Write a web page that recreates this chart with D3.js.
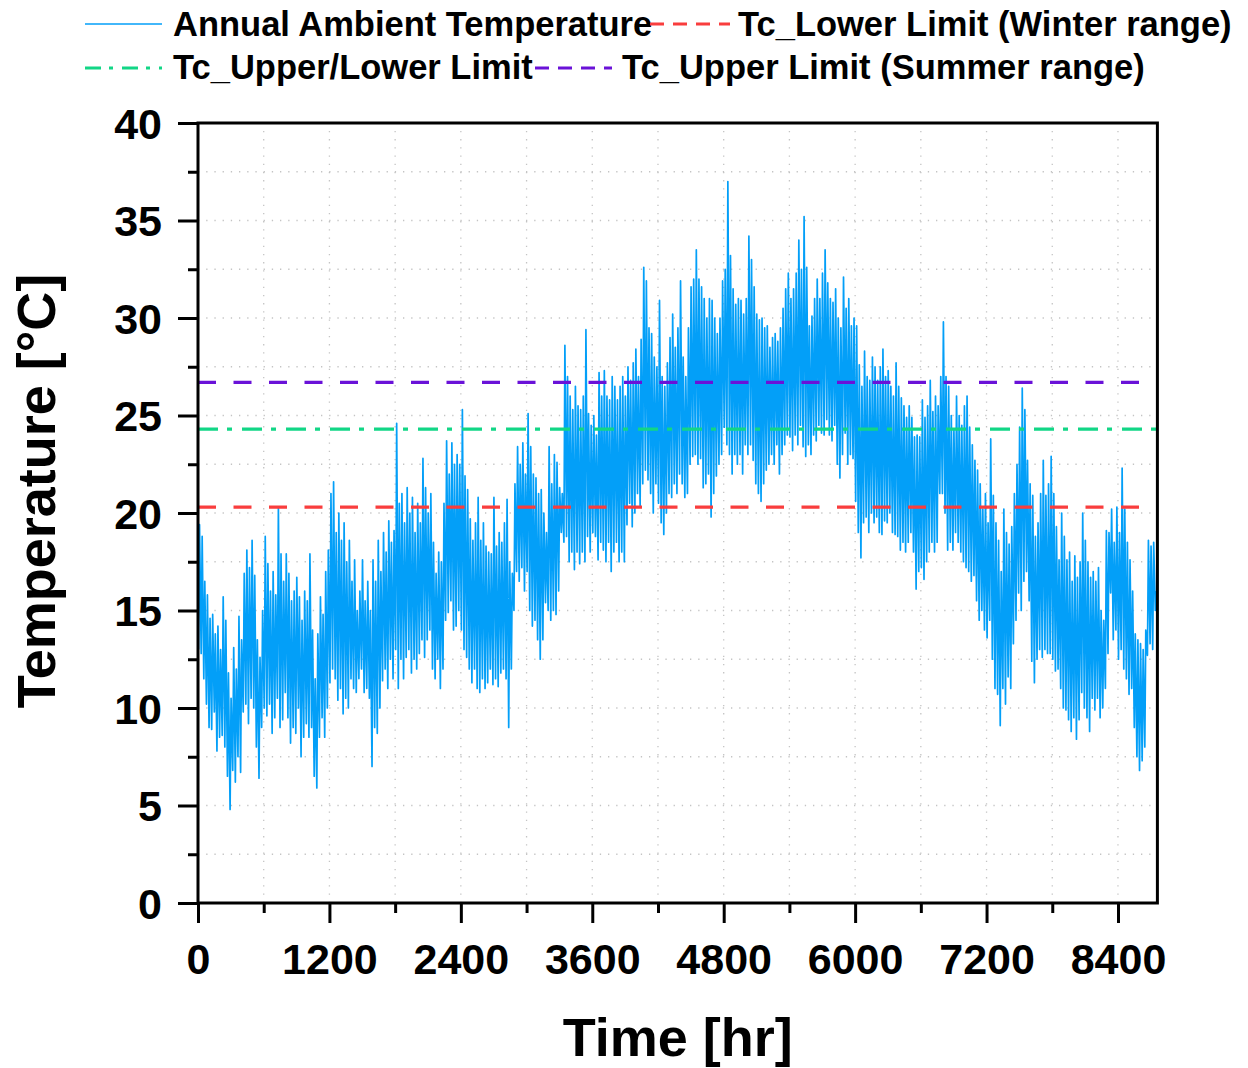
<!DOCTYPE html>
<html><head><meta charset="utf-8">
<script src="https://cdn.jsdelivr.net/npm/d3@7"></script>
<style>body{margin:0;background:#fff}svg{display:block}</style>
</head><body><svg id="c" width="1248" height="1068"></svg>
<script>
// Daily maximum / minimum ambient temperature (°C), day 0..364
const dailyMax = [
19.4,18.8,16.5,15.8,14.6,14.8,13.8,14.2,13.0,15.7,
14.5,11.8,10.5,13.1,12.0,14.7,13.5,16.9,18.1,17.2,
18.6,16.8,13.5,12.6,15.0,18.8,17.4,16.0,17.0,15.8,
20.3,17.9,16.5,17.9,16.9,15.5,16.0,16.7,15.7,14.5,
16.0,15.5,17.9,14.0,11.5,13.8,15.7,14.8,17.0,18.1,
21.0,21.6,19.0,20.0,18.6,19.5,17.5,18.6,16.5,17.6,
15.0,16.0,17.6,15.5,16.5,15.0,17.6,16.5,18.6,17.0,
19.0,18.0,19.6,18.5,19.1,24.6,20.5,21.0,19.5,21.3,
20.0,20.8,19.0,20.5,19.5,22.8,21.3,20.0,21.0,18.5,
16.9,18.0,17.5,20.5,23.7,22.0,23.6,22.5,23.0,22.5,
25.3,21.9,21.2,19.7,18.6,19.5,20.8,18.6,19.5,18.3,
18.0,17.9,20.8,18.3,19.0,18.5,19.5,20.7,17.5,16.9,
21.5,23.4,22.5,23.6,22.0,25.1,23.4,22.0,21.8,21.0,
21.2,20.0,19.0,23.4,21.5,23.0,22.6,21.3,21.0,28.6,
27.0,26.0,25.3,26.5,25.5,25.3,26.0,29.4,25.1,24.5,
25.0,24.0,27.2,26.0,27.3,26.0,25.8,27.0,26.5,25.8,
26.5,27.0,26.0,27.5,26.8,27.7,28.4,27.0,28.9,32.6,
31.9,29.5,29.2,28.0,27.5,30.9,27.0,26.5,27.7,29.0,
30.2,28.5,29.5,31.9,28.0,27.0,29.5,31.6,32.0,33.5,
32.0,31.6,31.0,30.0,31.0,30.9,30.0,29.2,30.0,31.9,
32.5,37.0,33.2,31.5,30.7,31.0,30.9,30.2,31.0,34.2,
33.0,31.6,30.2,29.9,30.0,29.5,29.6,28.5,29.0,29.2,
28.8,29.5,30.5,31.5,32.3,31.0,31.5,32.3,34.0,32.5,
35.2,32.6,29.6,30.1,31.0,32.0,31.0,32.3,33.5,31.8,
31.0,30.8,31.5,30.0,29.5,32.1,30.5,31.0,29.6,30.0,
29.6,27.6,26.5,28.3,27.0,26.8,28.0,27.5,26.8,27.5,
28.4,27.0,27.3,26.5,26.0,27.7,26.5,25.9,25.5,24.9,
25.5,24.9,23.9,24.0,23.9,25.8,24.9,25.5,26.8,25.2,
26.0,25.5,27.0,29.8,27.0,26.5,25.0,24.3,26.0,25.0,
24.5,25.5,26.0,24.4,23.5,22.7,22.2,21.5,20.2,21.0,
19.5,23.8,20.9,19.5,18.6,17.0,20.2,19.0,18.4,19.3,
21.0,22.5,24.4,26.4,25.3,22.7,21.5,20.9,18.8,19.5,
21.0,22.7,20.9,21.5,22.9,21.0,19.3,17.6,20.0,18.8,
17.6,18.0,16.5,17.8,16.7,17.5,20.0,18.6,17.5,16.7,
17.0,16.5,17.2,15.0,14.5,19.1,19.0,20.2,18.5,20.3,
19.0,22.3,20.2,18.5,17.6,16.0,13.8,13.5,13.3,13.0,
14.0,18.6,18.3,18.5,16.0
];
const dailyMin = [
13.0,12.8,11.5,10.2,9.0,8.9,9.8,7.8,8.5,8.6,
8.0,6.5,4.8,6.8,6.2,7.5,6.7,9.8,10.2,9.2,
10.5,10.0,8.0,6.4,9.0,10.0,9.6,10.2,8.7,9.5,
10.5,9.0,9.4,10.8,9.5,8.2,9.0,8.7,10.0,7.5,
8.5,9.2,8.5,9.0,6.5,5.9,8.5,9.5,8.5,10.0,
11.3,12.0,11.5,10.4,11.0,9.7,10.5,10.0,11.5,11.0,
10.8,11.5,12.0,10.8,11.0,10.5,7.0,9.0,8.7,10.0,
11.4,12.0,11.0,12.5,11.5,13.0,11.0,12.5,11.5,12.6,
13.0,11.8,12.5,12.0,12.8,13.5,12.6,13.5,14.0,12.0,
11.5,12.5,11.0,12.0,14.5,14.9,15.5,14.0,14.2,15.0,
14.0,13.0,12.6,12.0,11.3,12.0,11.0,10.8,11.5,11.0,
11.3,12.0,11.2,11.5,11.1,11.8,12.0,11.5,9.0,12.0,
15.0,17.0,16.5,17.2,16.0,17.0,15.0,14.2,14.5,13.5,
12.5,13.5,15.4,15.0,14.5,15.0,14.8,16.0,19.0,18.5,
18.8,17.5,18.0,17.1,18.0,17.4,18.0,17.5,18.8,18.0,
19.0,18.8,17.6,18.5,18.1,17.5,18.5,17.0,18.0,18.5,
17.5,18.0,17.5,19.4,20.5,19.3,20.0,21.0,20.3,21.5,
22.2,21.7,21.0,20.0,21.5,20.5,19.5,18.9,20.0,21.0,
20.8,21.5,21.0,22.0,21.5,20.8,21.0,22.5,22.9,23.0,
22.5,22.8,21.3,21.5,22.0,19.8,21.0,21.9,22.5,23.0,
24.4,23.5,23.0,22.0,23.0,22.5,23.0,22.0,23.5,23.0,
23.5,22.7,21.5,21.0,20.6,21.5,22.2,22.5,23.0,22.5,
23.5,22.0,23.0,23.5,24.0,23.9,23.2,24.0,23.5,24.5,
23.4,22.9,23.5,23.0,24.0,23.7,24.5,24.1,24.0,24.8,
24.0,23.7,24.5,22.5,21.8,23.0,24.1,22.5,23.0,22.8,
20.6,19.0,17.7,19.5,19.8,19.0,20.0,19.5,19.8,19.0,
18.9,19.6,19.5,20.0,19.0,18.9,18.8,18.1,18.5,18.0,
18.5,19.0,18.0,16.1,17.0,17.2,16.6,17.5,18.0,18.5,
18.0,18.5,21.0,21.0,20.0,18.1,18.5,18.1,19.0,18.5,
18.0,17.5,17.2,17.0,16.5,16.8,15.5,14.5,15.0,14.0,
13.6,14.5,12.5,11.0,10.7,9.1,11.0,10.2,11.6,11.0,
13.3,14.5,15.9,15.0,16.5,17.0,15.5,12.4,11.3,12.5,
13.0,12.6,13.0,12.8,12.8,12.5,11.9,12.0,11.0,10.0,
9.9,9.4,8.8,9.5,8.4,9.4,10.8,10.0,9.5,8.8,
10.5,9.9,10.5,9.5,10.0,11.0,12.8,15.9,13.5,14.0,
12.5,13.0,12.0,11.5,10.7,11.0,9.0,7.5,6.8,7.3,
8.0,12.7,13.3,13.0,15.0
];
const minHour = 5, maxHour = 14;   // hour of day at which min / max occur
const xMajorTicks = [0,1200,2400,3600,4800,6000,7200,8400];
const xMinorTicks = [600,1800,3000,4200,5400,6600,7800];
const yMajorTicks = [0,5,10,15,20,25,30,35,40];
const yMinorTicks = [2.5,7.5,12.5,17.5,22.5,27.5,32.5,37.5];
const limitNames  = ["Tc_Lower Limit (Winter range)","Tc_Upper/Lower Limit","Tc_Upper Limit (Summer range)"];
const limitValues = [20.3, 24.3, 26.7];
const seriesName = "Annual Ambient Temperature";
const xTitle = "Time [hr]", yTitle = "Temperature [°C]";

// ---------- styling / layout ----------
const FONT = "Arial, 'Liberation Sans', sans-serif";
const blue = "#039ff8";
const limitStyles = [
  {color:"#f93d3d", dash:"18,17.5"},
  {color:"#12d686", dash:"20,9,5,10"},
  {color:"#6a12d8", dash:"18,17.5"}
];
const L = 198, R = 1157.4, T = 123, B = 903;
const svg = d3.select("#c");
const x = d3.scaleLinear().domain([0,8760]).range([L,R]);
const y = d3.scaleLinear().domain([0,40]).range([B,T]);

// build series
const pts = [];
dailyMax.forEach((mx,d)=>{
  pts.push({h:d*24+minHour, t:dailyMin[d]});
  pts.push({h:d*24+maxHour, t:mx});
});

// grid
const grid = svg.append("g").attr("stroke","#c4c4c4").attr("stroke-width",1.3).attr("stroke-dasharray","1.3,6.9");
xMajorTicks.concat(xMinorTicks).filter(v=>v>0).forEach(v=>{
  grid.append("line").attr("x1",x(v)).attr("x2",x(v)).attr("y1",B).attr("y2",T);
});
yMajorTicks.concat(yMinorTicks).filter(v=>v>0&&v<40).forEach(v=>{
  grid.append("line").attr("x1",L).attr("x2",R).attr("y1",y(v)).attr("y2",y(v));
});

svg.append("clipPath").attr("id","clip").append("rect").attr("x",L).attr("y",T).attr("width",R-L).attr("height",B-T);

// data line
svg.append("path").datum(pts)
  .attr("clip-path","url(#clip)")
  .attr("fill","none").attr("stroke",blue).attr("stroke-width",1.7).attr("stroke-linejoin","round")
  .attr("d", d3.line().x(p=>x(p.h)).y(p=>y(p.t)));

// limit lines
limitValues.forEach((v,i)=>{
  svg.append("line").attr("x1",L).attr("x2",R).attr("y1",y(v)).attr("y2",y(v))
    .attr("stroke",limitStyles[i].color).attr("stroke-width",3.2).attr("stroke-dasharray",limitStyles[i].dash);
});

// axes
function styleAxis(g){
  g.select(".domain").remove();
  g.selectAll(".tick line").attr("stroke","#000").attr("stroke-width",3);
}
const xAx = svg.append("g").attr("transform",`translate(0,${B})`)
  .call(d3.axisBottom(x).tickValues(xMajorTicks).tickSize(20).tickFormat(d3.format("d")));
styleAxis(xAx);
xAx.selectAll("text").attr("y",0).attr("dy",0).attr("transform","translate(0,71)")
  .attr("font-family",FONT).attr("font-size",43).attr("font-weight","bold").attr("fill","#000");
const xMin = svg.append("g").attr("transform",`translate(0,${B})`)
  .call(d3.axisBottom(x).tickValues(xMinorTicks).tickSize(10).tickFormat(""));
styleAxis(xMin);

const yAx = svg.append("g").attr("transform",`translate(${L},0)`)
  .call(d3.axisLeft(y).tickValues(yMajorTicks).tickSize(20).tickFormat(d3.format("d")));
styleAxis(yAx);
yAx.selectAll("text").attr("x",-36).attr("dy","0.36em")
  .attr("font-family",FONT).attr("font-size",43).attr("font-weight","bold").attr("fill","#000");
const yMin = svg.append("g").attr("transform",`translate(${L},0)`)
  .call(d3.axisLeft(y).tickValues(yMinorTicks).tickSize(10).tickFormat(""));
styleAxis(yMin);

// frame
svg.append("rect").attr("x",L).attr("y",T).attr("width",R-L).attr("height",B-T)
  .attr("fill","none").attr("stroke","#000").attr("stroke-width",3);

// axis titles
svg.append("text").attr("x",(L+R)/2).attr("y",1056).attr("text-anchor","middle")
  .attr("font-family",FONT).attr("font-size",54).attr("font-weight","bold").text(xTitle);
svg.append("text").attr("transform","translate(55,491) rotate(-90)").attr("text-anchor","middle")
  .attr("font-family",FONT).attr("font-size",54).attr("font-weight","bold").text(yTitle);

// legend
const legend = [
  {name:seriesName, color:blue, dash:null, w:1.5, x1:85, x2:162, tx:173, ty:36, ly:24},
  {name:limitNames[0], color:limitStyles[0].color, dash:"14,9", w:3, x1:650, x2:730, tx:738, ty:36, ly:24},
  {name:limitNames[1], color:limitStyles[1].color, dash:"16,8,4,9", w:3, x1:85, x2:162, tx:173, ty:79, ly:68},
  {name:limitNames[2], color:limitStyles[2].color, dash:"14,9", w:3, x1:535, x2:612, tx:622, ty:79, ly:68}
];
legend.forEach(e=>{
  const ln = svg.append("line").attr("x1",e.x1).attr("x2",e.x2).attr("y1",e.ly).attr("y2",e.ly)
    .attr("stroke",e.color).attr("stroke-width",e.w);
  if(e.dash) ln.attr("stroke-dasharray",e.dash);
  svg.append("text").attr("x",e.tx).attr("y",e.ty).attr("font-family",FONT).attr("font-size",34.5)
    .attr("font-weight","bold").attr("fill","#000").text(e.name);
});
</script></body></html>
